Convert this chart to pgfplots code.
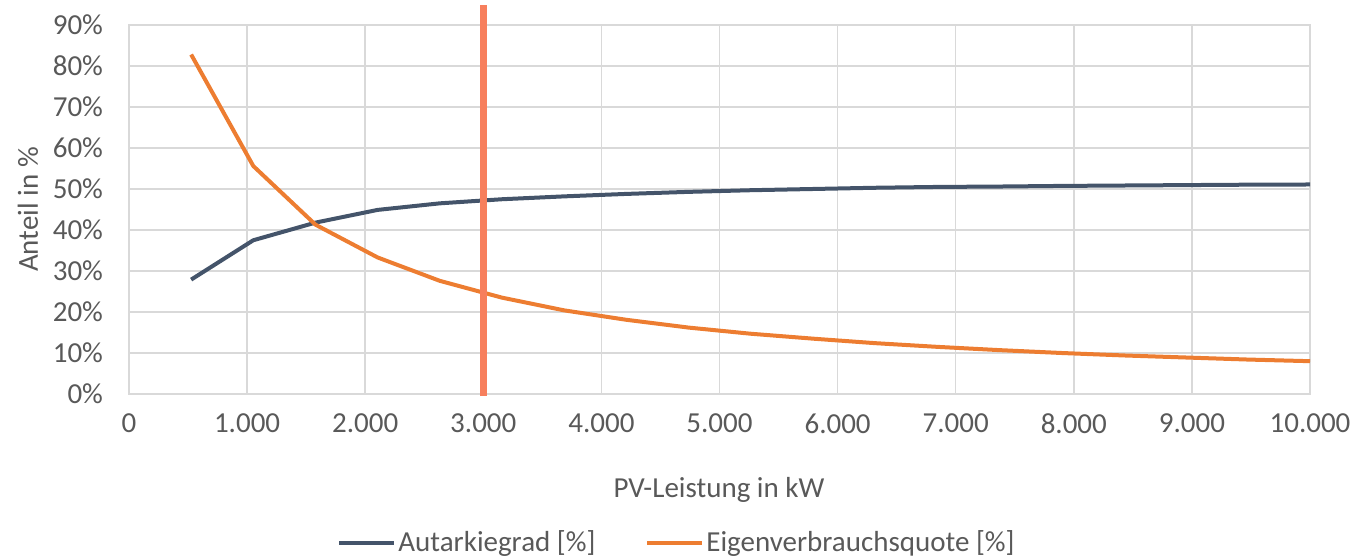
\documentclass[border=0pt]{standalone}
\usepackage{pgfplots}
\pgfplotsset{compat=1.18}
\usepackage{fontspec}
\setmainfont{Carlito}
\definecolor{autblue}{HTML}{44546A}
\definecolor{eigorange}{HTML}{ED7D31}
\definecolor{vline}{RGB}{247,127,93}
\definecolor{gridgray}{HTML}{D9D9D9}
\definecolor{txtgray}{HTML}{595959}
\begin{document}
\fontsize{14.5pt}{17.5pt}\selectfont
\begin{tikzpicture}
\begin{axis}[
  scale only axis,
  width=590.5pt, height=184.5pt,
  xmin=0, xmax=10000, ymin=0, ymax=90,
  xtick={0,1000,...,10000},
  ytick={0,10,...,90},
  grid=major,
  major grid style={color=gridgray, line width=0.75pt},
  axis line style={color=gridgray, line width=0.75pt},
  major tick length=0pt,
  tick style={draw=none},
  clip=false,
  font=\fontsize{14.5pt}{17.5pt}\selectfont,
  ticklabel style={text=txtgray},
  /pgf/number format/1000 sep={.},
  /pgf/number format/assume math mode=true,
  scaled x ticks=false,
  yticklabel={\pgfmathprintnumber{\tick}\%},
  yticklabel style={anchor=east, xshift=-8pt},
  xticklabel style={anchor=north, yshift=-5pt},
  xlabel={PV-Leistung in kW},
  ylabel={Anteil in \%},
  label style={text=txtgray},
  xlabel style={at={(axis description cs:0.4996,-0.260)}, anchor=center},
  ylabel style={at={(axis description cs:-0.0855,0.5)}, anchor=center},
  legend columns=2,
  legend style={at={(axis description cs:0.4640,-0.404)}, anchor=center, draw=none, fill=none,
    text=txtgray, /tikz/every even column/.append style={column sep=24pt},
    nodes={inner xsep=1pt},
    font=\fontsize{14.5pt}{17.5pt}\selectfont},
  legend image code/.code={\draw[#1, line width=2pt] (0pt,0pt) -- (27.5pt,0pt);},
]
\addplot[color=autblue, line width=2pt, mark=none, line join=round] coordinates {
(526.3,27.9) (1052.6,37.5) (1578.9,41.8) (2105.3,44.9) (2631.6,46.5)
(3157.9,47.5) (3684.2,48.2) (4210.5,48.8) (4736.8,49.3) (5263.2,49.7)
(5789.5,50.0) (6315.8,50.3) (6842.1,50.5) (7368.4,50.6) (7894.7,50.75)
(8421.1,50.85) (8947.4,50.95) (9473.7,51.05) (10000,51.1)};
\addlegendentry{Autarkiegrad [\%]}
\addplot[color=eigorange, line width=2pt, mark=none, line join=round] coordinates {
(526.3,82.8) (1052.6,55.6) (1578.9,41.3) (2105.3,33.3) (2631.6,27.6)
(3157.9,23.5) (3684.2,20.4) (4210.5,18.1) (4736.8,16.2) (5263.2,14.7)
(5789.5,13.5) (6315.8,12.4) (6842.1,11.5) (7368.4,10.7) (7894.7,10.0)
(8421.1,9.4) (8947.4,8.9) (9473.7,8.4) (10000,8.0)};
\addlegendentry{Eigenverbrauchsquote [\%]}
\addplot[color=vline, line width=3.75pt, mark=none, forget plot] coordinates {(3000,-0.5) (3000,95)};
\end{axis}
\pgfresetboundingbox
\path ([shift={(-64.5pt,-81.5pt)}]current axis.south west) rectangle ([shift={(21pt,12.5pt)}]current axis.north east);
\end{tikzpicture}
\end{document}
